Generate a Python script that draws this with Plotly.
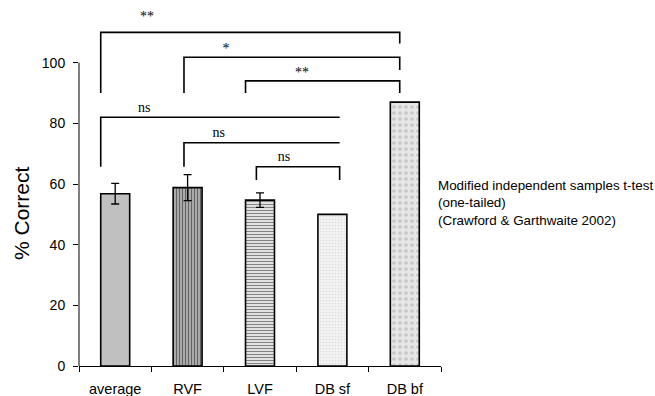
import plotly.graph_objects as go

# ---- data ----
categories = ["average", "RVF", "LVF", "DB sf", "DB bf"]
pct_correct = [56.8, 58.8, 54.7, 50.0, 87.0]
pct_error = [3.4, 4.3, 2.4, None, None]

# significance brackets: left x, right x, bar level, left leg end, right leg end (None = no leg), label
br_left = [-0.2, 0.95, 1.8, -0.2, 0.95, 1.95]
br_right = [3.93, 3.93, 3.93, 3.1, 3.1, 3.1]
br_level = [110, 101.8, 94, 82, 73.6, 65.7]
br_left_end = [90, 90, 90, 65.7, 65.7, 61.3]
br_right_end = [106.3, 97.6, 90, None, None, 61.3]
br_label = ["**", "*", "**", "ns", "ns", "ns"]
br_label_x = [0.44, 1.53, 2.58, 0.40, 1.43, 2.33]
br_label_y = [115, 104.4, 96.3, 85, 76.8, 68.9]

y_ticks = [0, 20, 40, 60, 80, 100]

xs = list(range(len(categories)))

fig = go.Figure()

patterns = [
    dict(shape="", bgcolor="#c0c0c0"),
    dict(shape="|", fgcolor="#111111", bgcolor="#b4b4b4", size=3, solidity=0.42),
    dict(shape="-", fgcolor="#111111", bgcolor="#f4f4f4", size=3, solidity=0.45),
    dict(shape=".", fgcolor="#c4c4c4", bgcolor="#f3f3f3", size=3, solidity=0.25),
    dict(shape=".", fgcolor="#a8a8a8", bgcolor="#e6e6e6", size=6, solidity=0.3),
]
fills = ["#c0c0c0", "#b4b4b4", "#f4f4f4", "#f3f3f3", "#e6e6e6"]

for i in xs:
    err = pct_error[i]
    fig.add_trace(go.Bar(
        x=[xs[i]], y=[pct_correct[i]], width=0.4,
        marker=dict(color=fills[i], pattern=patterns[i],
                    line=dict(color="black", width=1.6)),
        error_y=(dict(type="data", array=[err], visible=True, color="black",
                      thickness=1.3, width=4) if err is not None else dict(visible=False)),
        showlegend=False, hoverinfo="skip",
    ))

# brackets
for i in range(len(br_label)):
    bx = [br_left[i], br_left[i], br_right[i]]
    by = [br_left_end[i], br_level[i], br_level[i]]
    if br_right_end[i] is not None:
        bx.append(br_right[i])
        by.append(br_right_end[i])
    fig.add_trace(go.Scatter(x=bx, y=by, mode="lines",
                             line=dict(color="black", width=1.6),
                             showlegend=False, hoverinfo="skip"))

fig.add_trace(go.Scatter(x=br_label_x, y=br_label_y, mode="text", text=br_label,
                         textfont=dict(family="Liberation Serif", size=14, color="black"),
                         showlegend=False, hoverinfo="skip", cliponaxis=False))

# y axis line only from 0 to 100
fig.add_shape(type="line", xref="paper", yref="y", x0=0, x1=0, y0=0, y1=100,
              line=dict(color="black", width=1))

fig.add_annotation(xref="paper", yref="paper", x=-0.157, y=50.5 / 120,
                   text="% Correct", textangle=-90, showarrow=False,
                   xanchor="center", yanchor="middle",
                   font=dict(family="Liberation Sans", size=21, color="black"))

fig.add_annotation(xref="paper", yref="y", x=0.986, y=53.8,
                   text="Modified independent samples t-test<br>(one-tailed)<br>(Crawford & Garthwaite 2002)",
                   showarrow=False, xanchor="left", yanchor="middle", align="left",
                   font=dict(family="Liberation Sans", size=13.4, color="black"))

fig.update_layout(
    width=655, height=396,
    margin=dict(l=79, r=214, t=2, b=30),
    paper_bgcolor="white", plot_bgcolor="white",
    bargap=0.6,
    xaxis=dict(range=[-0.5, 4.5], tickmode="array", tickvals=xs, ticktext=categories,
               ticks="", showline=True, linecolor="black", linewidth=1,
               showgrid=False, zeroline=False, automargin=False,
               tickfont=dict(family="Liberation Sans", size=14.5, color="black"),
               ticklabelstandoff=10,
               minor=dict(tickmode="array", tickvals=[-0.5, 0.5, 1.5, 2.5, 3.5, 4.5],
                          ticks="outside", ticklen=5, tickcolor="black", tickwidth=1,
                          showgrid=False)),
    yaxis=dict(range=[0, 120], tickmode="array", tickvals=y_ticks,
               ticks="outside", ticklen=5, tickcolor="black", tickwidth=1,
               showline=False, showgrid=False, zeroline=False, automargin=False,
               ticklabelstandoff=5,
               tickfont=dict(family="Liberation Sans", size=14, color="black")),
)

fig.write_html("out.html", config={"displayModeBar": False},
               post_script="document.body.style.margin='0';")
